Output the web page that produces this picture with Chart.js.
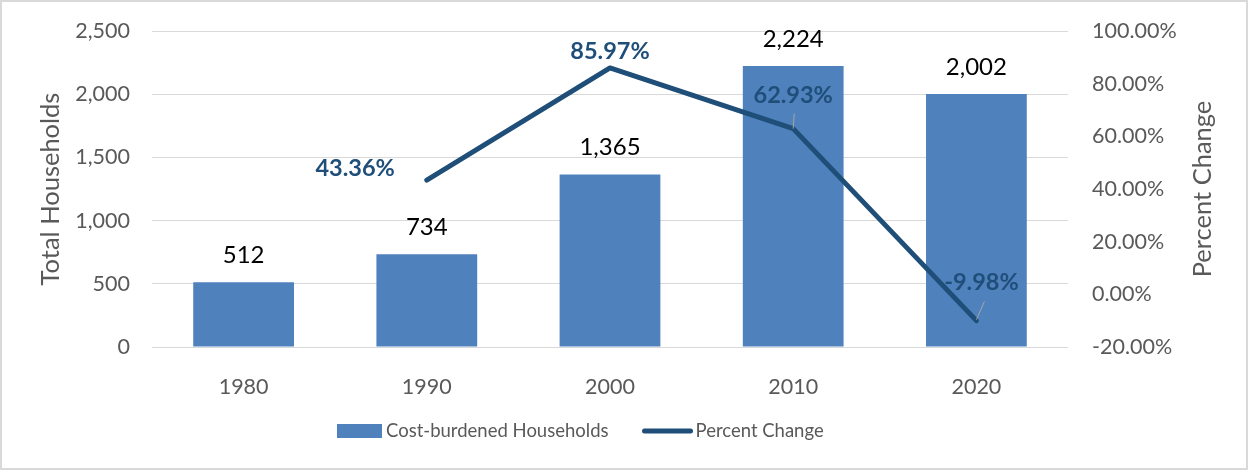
<!DOCTYPE html>
<html>
<head>
<meta charset="utf-8">
<script src="https://cdn.jsdelivr.net/npm/chart.js@4.4.0/dist/chart.umd.min.js"></script>
<style>
  html, body { margin: 0; padding: 0; background: #fff; }
  #wrap { width: 1248px; height: 470px; box-sizing: border-box; border: 2px solid #d9d9d9; background: #fff; }
</style>
</head>
<body>
<div id="wrap"><canvas id="myChart"></canvas></div>
<script>
const years = ['1980', '1990', '2000', '2010', '2020'];
const households = [512, 734, 1365, 2224, 2002];
const percentChange = [null, 43.36, 85.97, 62.93, -9.98];
const householdTicks = [0, 500, 1000, 1500, 2000, 2500];
const percentTicks = [-20, 0, 20, 40, 60, 80, 100];

const FONT = 'Lato, "Noto Sans", sans-serif';
const GREY = '#595959';
const BAR_BLUE = '#4f81bd';
const LINE_BLUE = '#1f4e79';

// where each percent label sits relative to its point
const pctLabelPlacement = [
    null,
    { dx: -32, dy: -12, align: 'right' },
    { dx: 0, dy: -17, align: 'center' },
    { dx: 0, dy: -33, align: 'center', leader: [0, 0, 1, -15] },
    { dx: 5, dy: -38, align: 'center', leader: [0, -1, 8, -19] }
];

const valueLabels = {
    id: 'valueLabels',
    afterDatasetsDraw(chart) {
        const ctx = chart.ctx;
        ctx.save();
        ctx.textBaseline = 'middle';

        // bar totals
        ctx.font = '24px ' + FONT;
        ctx.fillStyle = '#000';
        ctx.textAlign = 'center';
        chart.getDatasetMeta(0).data.forEach((bar, i) => {
            ctx.fillText(households[i].toLocaleString('en-US'), bar.x, bar.y - 27);
        });

        // percent change labels
        ctx.font = 'bold 23.5px ' + FONT;
        chart.getDatasetMeta(1).data.forEach((pt, i) => {
            const v = percentChange[i];
            const p = pctLabelPlacement[i];
            if (v === null || !p) return;
            if (p.leader) {
                ctx.strokeStyle = '#a6a6a6';
                ctx.lineWidth = 1;
                ctx.beginPath();
                ctx.moveTo(pt.x + p.leader[0], pt.y + p.leader[1]);
                ctx.lineTo(pt.x + p.leader[2], pt.y + p.leader[3]);
                ctx.stroke();
            }
            ctx.fillStyle = LINE_BLUE;
            ctx.textAlign = p.align;
            ctx.fillText(v.toFixed(2) + '%', pt.x + p.dx, pt.y + p.dy);
        });
        ctx.restore();
    }
};

const axisTitlesAndLegend = {
    id: 'axisTitlesAndLegend',
    afterDraw(chart) {
        const ctx = chart.ctx;
        const area = chart.chartArea;
        const midY = (area.top + area.bottom) / 2;
        ctx.save();
        ctx.fillStyle = GREY;
        ctx.textAlign = 'center';
        ctx.textBaseline = 'middle';
        ctx.font = '25.5px ' + FONT;
        [[49, 'Total Households'], [1201, 'Percent Change']].forEach(([x, text]) => {
            ctx.save();
            ctx.translate(x, midY);
            ctx.rotate(-Math.PI / 2);
            ctx.fillText(text, 0, 0);
            ctx.restore();
        });

        // legend
        const ly = 429;
        let x = 335;
        ctx.font = '18.5px ' + FONT;
        ctx.textAlign = 'left';
        const ds = chart.data.datasets;
        ctx.fillStyle = ds[0].backgroundColor;
        ctx.fillRect(x, ly - 7, 45, 14);
        x += 49;
        ctx.fillStyle = GREY;
        ctx.fillText(ds[0].label, x, ly);
        x += ctx.measureText(ds[0].label).width + 36;
        ctx.strokeStyle = ds[1].borderColor;
        ctx.lineWidth = 5;
        ctx.lineCap = 'round';
        ctx.beginPath();
        ctx.moveTo(x, ly);
        ctx.lineTo(x + 46, ly);
        ctx.stroke();
        x += 51;
        ctx.fillText(ds[1].label, x, ly);
        ctx.restore();
    }
};

const tickFont = { family: FONT, size: 21.5 };

// fixed axis width; drop the label overhang so layout.padding sets the plot top
const fixVertical = width => s => {
    s.width = width;
    s.paddingTop = 0;
    s.paddingBottom = 0;
};

new Chart('myChart', {
    data: {
        labels: years,
        datasets: [{
            type: 'bar',
            label: 'Cost-burdened Households',
            data: households,
            backgroundColor: BAR_BLUE,
            yAxisID: 'y',
            categoryPercentage: 1,
            barPercentage: 0.55,
            order: 1
        }, {
            type: 'line',
            label: 'Percent Change',
            data: percentChange,
            borderColor: LINE_BLUE,
            borderWidth: 5,
            borderJoinStyle: 'round',
            borderCapStyle: 'round',
            pointRadius: 0,
            tension: 0,
            yAxisID: 'y1',
            order: 0
        }]
    },
    options: {
        responsive: true,
        maintainAspectRatio: false,
        animation: false,
        layout: { padding: { top: 29, bottom: 71, left: 0, right: 0 } },
        plugins: {
            legend: { display: false },
            tooltip: { enabled: false }
        },
        scales: {
            x: {
                grid: { display: false },
                border: { display: false },
                ticks: { color: GREY, font: tickFont, padding: 19 },
                afterFit: s => { s.height = 50; }
            },
            y: {
                position: 'left',
                min: 0,
                max: 2500,
                afterBuildTicks: s => { s.ticks = householdTicks.map(v => ({ value: v })); },
                grid: { color: '#d9d9d9', lineWidth: 1, drawTicks: false },
                border: { display: false },
                ticks: {
                    color: GREY,
                    font: tickFont,
                    padding: 22,
                    callback: v => v.toLocaleString('en-US')
                },
                afterFit: fixVertical(150)
            },
            y1: {
                position: 'right',
                min: -20,
                max: 100,
                afterBuildTicks: s => { s.ticks = percentTicks.map(v => ({ value: v })); },
                grid: { display: false, drawTicks: false },
                border: { display: false },
                ticks: {
                    color: GREY,
                    font: tickFont,
                    padding: 24,
                    callback: v => v.toFixed(2) + '%'
                },
                afterFit: fixVertical(178)
            }
        }
    },
    plugins: [valueLabels, axisTitlesAndLegend]
});
</script>
</body>
</html>
